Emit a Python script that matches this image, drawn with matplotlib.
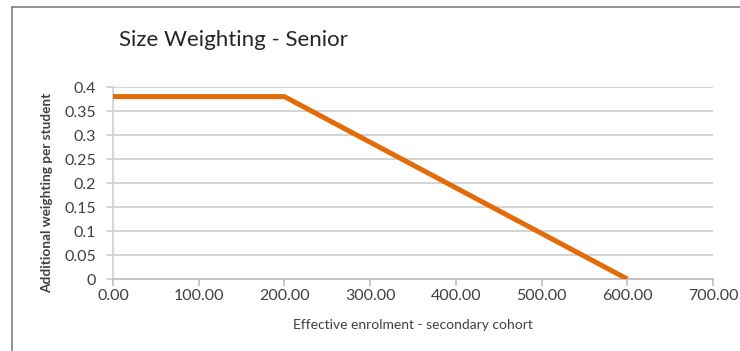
import numpy as np
import matplotlib
matplotlib.use('Agg')
import matplotlib.pyplot as plt
from matplotlib.lines import Line2D

#%% Data
enrolment = [0, 200, 600]          # effective enrolment - secondary cohort
weighting = [0.38, 0.38, 0.0]      # additional weighting per student
x_ticks = [0, 100, 200, 300, 400, 500, 600, 700]
y_ticks = [0, 0.05, 0.1, 0.15, 0.2, 0.25, 0.3, 0.35, 0.4]
y_tick_labels = ['0', '0.05', '0.1', '0.15', '0.2', '0.25', '0.3', '0.35', '0.4']

#%% General look
plt.rcParams['font.family'] = ['Lato', 'DejaVu Sans']
text_col = '#404040'
grid_col = '#d0d0d0'

fig = plt.figure(figsize=(7.4, 3.51), dpi=100)
ax = fig.add_axes([0.1527, 0.2051, 0.8108, 0.5470])

#outer chart frame (only the left and top edges are visible in the crop)
fig.add_artist(Line2D([12/740, 12/740], [0, 1 - 7/351], color='#7f7f7f', lw=1.2))
fig.add_artist(Line2D([12/740, 1], [1 - 7/351, 1 - 7/351], color='#7f7f7f', lw=1.2))

ax.plot(enrolment, weighting, color='#e36c09', lw=3.6, solid_capstyle='butt', zorder=3)

ax.set_xlim(0, 700)
ax.set_ylim(0, 0.4)
ax.set_xticks(x_ticks)
ax.set_xticklabels(['%.2f' % v for v in x_ticks])
ax.set_yticks(y_ticks)
ax.set_yticklabels(y_tick_labels)

ax.grid(axis='y', color=grid_col, lw=1.3)
ax.set_axisbelow(True)
for s in ['top', 'right']:
    ax.spines[s].set_visible(False)
ax.spines['left'].set_color(grid_col)
ax.spines['bottom'].set_color('#bfbfbf')
ax.spines['left'].set_linewidth(1.2)
ax.spines['bottom'].set_linewidth(1.3)

ax.tick_params(axis='x', colors='#bfbfbf', length=5, width=1.2, pad=2, labelsize=11.5, labelcolor=text_col)
ax.tick_params(axis='y', colors=grid_col, length=5, width=1.2, pad=7, labelsize=11.5, labelcolor=text_col)

ax.set_xlabel('Effective enrolment - secondary cohort', fontsize=10, color=text_col, labelpad=12)
ax.set_ylabel('Additional weighting per student', fontsize=9.8, color=text_col, fontweight='bold')
ax.yaxis.set_label_coords(-0.1, 0.45)

fig.text(0.316, 0.886, 'Size Weighting - Senior', fontsize=16, color='#262626', ha='center', va='center')

fig.savefig('out.png', dpi=100)
